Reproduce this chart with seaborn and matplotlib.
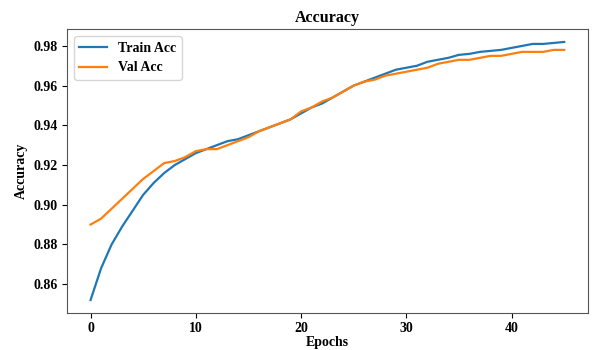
import pandas as pd
import matplotlib.pyplot as plt
import seaborn as sns

# accuracy per epoch
epochs = list(range(46))
train_acc = [0.852, 0.868, 0.880, 0.889, 0.897, 0.905, 0.911, 0.916, 0.920, 0.923,
             0.926, 0.928, 0.930, 0.932, 0.933, 0.935, 0.937, 0.939, 0.941, 0.943,
             0.946, 0.949, 0.951, 0.954, 0.957, 0.960, 0.962, 0.964, 0.966, 0.968,
             0.969, 0.970, 0.972, 0.973, 0.974, 0.9755, 0.976, 0.977, 0.9775, 0.978,
             0.979, 0.980, 0.981, 0.981, 0.9815, 0.982]
val_acc = [0.890, 0.893, 0.898, 0.903, 0.908, 0.913, 0.917, 0.921, 0.922, 0.924,
           0.927, 0.928, 0.928, 0.930, 0.932, 0.934, 0.937, 0.939, 0.941, 0.943,
           0.947, 0.949, 0.952, 0.954, 0.957, 0.960, 0.962, 0.963, 0.965, 0.966,
           0.967, 0.968, 0.969, 0.971, 0.972, 0.973, 0.973, 0.974, 0.975, 0.975,
           0.976, 0.977, 0.977, 0.977, 0.978, 0.978]

df = pd.DataFrame({'Epoch': epochs * 2,
                   'Acc': train_acc + val_acc,
                   'Serie': ['Train Acc'] * 46 + ['Val Acc'] * 46})

plt.rcParams['font.family'] = ['Liberation Serif', 'DejaVu Serif']
plt.rcParams['font.weight'] = 'bold'

fig = plt.figure(figsize=(5.92, 3.5), dpi=100)
ax = fig.add_axes([0.113, 0.106, 0.88, 0.811])
sns.lineplot(data=df, x='Epoch', y='Acc', hue='Serie',
             palette=['#1f77b4', '#ff7f0e'], linewidth=1.6, ax=ax)

ax.set_title('Accuracy', fontsize=11.5, fontweight='bold', pad=5)
ax.set_xlabel('Epochs', fontsize=10, fontweight='bold', labelpad=1)
ax.set_ylabel('Accuracy', fontsize=10, fontweight='bold', labelpad=4)
ax.set_xticks([0, 10, 20, 30, 40])
ax.set_yticks([0.86, 0.88, 0.90, 0.92, 0.94, 0.96, 0.98])
ax.tick_params(labelsize=10, pad=3)
for s in ax.spines.values():
    s.set_color('#555555')
ax.legend(title=None, loc='upper left', prop={'weight': 'bold', 'size': 10})

plt.savefig('out.png', dpi=100, facecolor='white')
